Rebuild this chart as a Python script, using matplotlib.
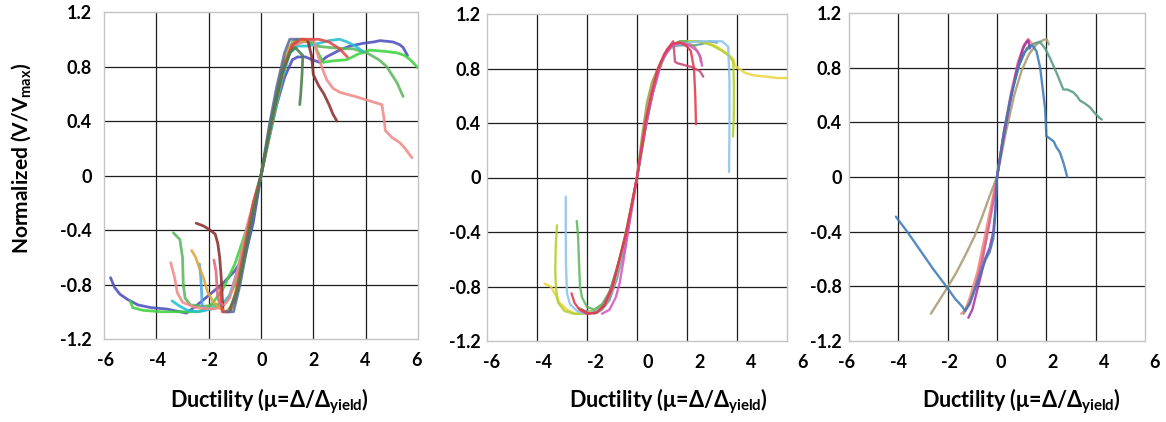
import matplotlib
matplotlib.use("Agg")
import matplotlib.pyplot as plt

plt.rcParams["font.family"] = ["Lato", "DejaVu Sans"]
plt.rcParams["font.weight"] = "bold"
plt.rcParams["mathtext.fontset"] = "custom"
plt.rcParams["mathtext.bf"] = "Lato:bold"
plt.rcParams["mathtext.rm"] = "Lato:bold"

X_TICKS = [-6, -4, -2, 0, 2, 4, 6]
Y_TICKS = [-1.2, -0.8, -0.4, 0, 0.4, 0.8, 1.2]
Y_TICK_LABELS = ["-1.2", "-0.8", "-0.4", "0", "0.4", "0.8", "1.2"]
GRID_X = [-4, -2, 0, 2, 4]
GRID_Y = [-0.8, -0.4, 0, 0.4, 0.8]

# ---- group 1 : backbone curves (ductility, V/Vmax)
p1_curves = {
    "blue": (
        [-5.75, -5.6, -5.4, -5.1, -4.7, -4.2, -3.6, -3.1, -2.85, -2.5, -2.0, -1.5, -1.0, -0.6, -0.3, 0,
         0.3, 0.6, 0.9, 1.2, 1.4, 1.7, 1.95, 2.25, 2.5, 3.0, 3.4, 3.9, 4.3, 4.55, 5.05, 5.3, 5.43, 5.6],
        [-0.75, -0.82, -0.87, -0.91, -0.95, -0.97, -0.98, -1.0, -1.01, -0.96, -0.88, -0.8, -0.7, -0.58, -0.35, 0,
         0.27, 0.52, 0.72, 0.85, 0.87, 0.87, 0.85, 0.83, 0.87, 0.92, 0.95, 0.97, 0.98, 0.99, 0.98, 0.96, 0.94, 0.88],
    ),
    "green": (
        [-5.0, -4.9, -4.5, -3.8, -3.0, -2.4, -2.0, -1.5, -1.0, -0.7, -0.4, -0.15, 0, 0.3, 0.6, 0.9, 1.2, 1.4,
         1.7, 2.0, 2.37, 2.7, 3.28, 3.7, 4.16, 4.8, 5.2, 5.5, 5.7, 6.0],
        [-0.92, -0.97, -0.99, -1.0, -1.0, -1.0, -0.97, -0.85, -0.65, -0.48, -0.3, -0.1, 0, 0.3, 0.6, 0.85, 0.98, 1.0,
         1.0, 0.97, 0.83, 0.84, 0.85, 0.89, 0.92, 0.91, 0.9, 0.88, 0.85, 0.79],
    ),
    "mid_green": (
        [-3.35, -3.1, -3.0, -2.97, -2.9, -2.7, -2.2, -1.7, -1.3, -1.0, -0.7, -0.4, 0, 0.4, 0.8, 1.1, 1.4,
         1.7, 2.1, 2.6, 3.2, 3.5, 4.05, 4.5, 4.8, 5.2, 5.43],
        [-0.42, -0.47, -0.6, -0.8, -0.9, -0.95, -0.96, -0.95, -0.92, -0.8, -0.55, -0.3, 0, 0.35, 0.7, 0.9, 0.97,
         0.99, 0.95, 0.94, 0.93, 0.93, 0.9, 0.85, 0.8, 0.68, 0.58],
    ),
    "cyan": (
        [-3.4, -3.1, -2.8, -2.4, -1.9, -1.5, -1.2, -0.9, -0.6, -0.3, 0, 0.4, 0.8, 1.1, 1.4, 1.8, 2.2, 2.6,
         3.0, 3.3, 3.6, 3.9],
        [-0.92, -0.96, -0.99, -1.0, -0.98, -0.95, -0.88, -0.7, -0.45, -0.22, 0, 0.38, 0.72, 0.9, 0.95, 0.95, 0.97,
         0.99, 1.0, 0.98, 0.95, 0.91],
    ),
    "sky": (
        [-2.35, -2.3, -2.27, -2.25, -2.15],
        [-0.65, -0.75, -0.86, -0.95, -0.99],
    ),
    "salmon": (
        [-3.45, -3.3, -3.2, -3.0, -2.5, -1.9, -1.5, -1.2, -0.9, -0.5, 0, 0.4, 0.8, 1.2, 1.6, 2.0, 2.18, 2.35,
         2.52, 2.75, 3.02, 3.6, 4.28, 4.62, 4.7, 4.75, 5.0, 5.31, 5.5, 5.77],
        [-0.64, -0.75, -0.86, -0.93, -0.97, -0.98, -0.97, -0.9, -0.7, -0.35, 0, 0.4, 0.75, 0.95, 0.98, 1.0, 0.88, 0.78,
         0.7, 0.64, 0.61, 0.58, 0.54, 0.52, 0.42, 0.33, 0.28, 0.24, 0.2, 0.13],
    ),
    "brown": (
        [-2.48, -2.2, -1.95, -1.75, -1.65, -1.58, -1.52, -1.48, -1.45, -1.2, -1.0, -0.7, -0.4, 0, 0.4, 0.8,
         1.2, 1.5, 1.8, 1.93, 2.0, 2.2, 2.4, 2.6, 2.75, 2.9],
        [-0.35, -0.37, -0.4, -0.43, -0.5, -0.6, -0.75, -0.9, -1.0, -1.0, -0.92, -0.65, -0.35, 0, 0.4, 0.75,
         0.96, 1.0, 0.98, 0.88, 0.74, 0.66, 0.6, 0.52, 0.45, 0.4],
    ),
    "orange": (
        [-2.65, -2.5, -2.35, -2.2, -2.05, -1.85, -1.6, -1.35, -1.1, -0.85, -0.55, -0.25, 0, 0.4, 0.8, 1.1,
         1.4, 1.7],
        [-0.55, -0.6, -0.68, -0.75, -0.85, -0.92, -0.97, -1.0, -0.96, -0.75, -0.45, -0.2, 0, 0.42, 0.78, 0.95,
         1.0, 0.98],
    ),
    "red": (
        [-1.55, -1.52, -1.48, -1.2, -0.95, -0.6, -0.3, 0, 0.5, 0.9, 1.2, 1.5, 1.9, 2.2, 2.6, 3.0, 3.3],
        [-0.82, -0.92, -1.0, -1.0, -0.85, -0.5, -0.2, 0, 0.5, 0.82, 0.96, 1.0, 1.0, 1.0, 0.98, 0.93, 0.87],
    ),
    "rose": (
        [-1.8, -1.72, -1.66, -1.6, -1.45],
        [-0.62, -0.7, -0.88, -0.93, -0.95],
    ),
    "slate": (
        [-1.35, -1.05, -0.8, -0.5, -0.2, 0, 0.3, 0.6, 0.9, 1.1, 1.4],
        [-1.0, -1.0, -0.8, -0.5, -0.2, 0, 0.35, 0.65, 0.9, 1.0, 1.0],
    ),
    "dark_green": (
        [-1.2, -0.9, -0.5, 0, 0.4, 0.8, 1.1, 1.3, 1.6, 1.57, 1.52, 1.48],
        [-0.98, -0.85, -0.45, 0, 0.4, 0.75, 0.9, 0.94, 0.88, 0.75, 0.6, 0.52],
    ),
}
p1_colors = {
    "blue": "#4d4dbf", "green": "#3ed23e", "mid_green": "#5db85d", "cyan": "#25c0d0",
    "sky": "#4aa8e8", "salmon": "#f08a8a", "brown": "#8b2e2e", "orange": "#e0a53a",
    "red": "#e04848", "rose": "#e06a7a", "slate": "#5b6e9a", "dark_green": "#4a7d4a",
}

# ---- group 2
p2_curves = {
    "teal": (
        [-2.0, -1.7, -1.4, -1.1, -0.8, -0.5, -0.25, 0, 0.25, 0.5, 0.8, 1.1, 1.4, 1.7, 2.0, 2.3, 2.6, 2.9, 3.2],
        [-0.98, -1.0, -0.97, -0.9, -0.74, -0.52, -0.27, 0, 0.28, 0.54, 0.76, 0.9, 0.96, 0.97, 0.97, 0.97, 0.98, 1.0, 0.99],
    ),
    "olive": (
        [-2.3, -2.0, -1.7, -1.4, -1.1, -0.8, -0.5, -0.25, 0, 0.2, 0.4, 0.6, 0.9, 1.2, 1.5, 1.8, 2.1, 2.3, 2.5, 2.55],
        [-0.96, -0.99, -0.98, -0.94, -0.85, -0.68, -0.46, -0.24, 0, 0.3, 0.55, 0.7, 0.83, 0.93, 0.98, 1.0, 0.98, 0.96, 0.9, 0.85],
    ),
    "yellow": (
        [-3.7, -3.45, -3.3, -3.1, -2.8, -2.5, -2.1, -1.7, -1.3, -1.0, -0.7, -0.45, -0.2, 0, 0.2, 0.4, 0.65, 0.9,
         1.2, 1.6, 2.0, 2.4, 2.8, 3.2, 3.6, 3.85, 3.92, 4.3, 4.65, 5.2, 5.6, 6.0],
        [-0.78, -0.8, -0.85, -0.92, -0.97, -1.0, -1.0, -0.99, -0.93, -0.82, -0.62, -0.42, -0.2, 0, 0.22, 0.43, 0.64, 0.81,
         0.93, 0.99, 1.0, 1.0, 0.99, 0.96, 0.91, 0.87, 0.82, 0.77, 0.75, 0.74, 0.73, 0.73],
    ),
    "lime": (
        [-3.2, -3.25, -3.27, -3.24, -3.15, -2.9, -2.5, -2.1, -1.7, -1.3, -1.0, -0.7, -0.45, -0.2, 0, 0.2, 0.4,
         0.65, 0.9, 1.2, 1.6, 2.0, 2.5, 3.0, 3.4, 3.7, 3.85, 3.88, 3.87, 3.84],
        [-0.35, -0.5, -0.68, -0.82, -0.92, -0.98, -1.0, -1.0, -0.97, -0.92, -0.8, -0.6, -0.4, -0.18, 0, 0.2, 0.42,
         0.63, 0.8, 0.93, 0.99, 1.0, 1.0, 0.97, 0.93, 0.89, 0.85, 0.65, 0.45, 0.3],
    ),
    "light_blue": (
        [-2.85, -2.85, -2.84, -2.8, -2.68, -2.4, -2.1, -1.8, -1.5, -1.2, -0.9, -0.6, -0.3, 0, 0.3, 0.6, 0.9, 1.2,
         1.6, 2.0, 2.5, 3.0, 3.4, 3.65, 3.7, 3.7, 3.69, 3.68],
        [-0.14, -0.4, -0.65, -0.85, -0.93, -0.98, -1.0, -0.99, -0.96, -0.9, -0.75, -0.55, -0.3, 0, 0.33, 0.6, 0.8, 0.93,
         0.98, 0.99, 1.0, 1.0, 1.0, 0.96, 0.7, 0.4, 0.2, 0.04],
    ),
    "green": (
        [-2.41, -2.36, -2.32, -2.28, -2.2, -2.0, -1.7, -1.4, -1.1, -0.8, -0.5, -0.25, 0, 0.25, 0.5, 0.8, 1.1, 1.4, 1.7, 2.0],
        [-0.32, -0.42, -0.62, -0.8, -0.88, -0.95, -0.97, -0.93, -0.84, -0.66, -0.46, -0.24, 0, 0.27, 0.52, 0.76, 0.9, 0.97, 1.0, 1.0],
    ),
    "crimson": (
        [-2.2, -1.9, -1.6, -1.3, -1.0, -0.7, -0.4, -0.2, 0, 0.2, 0.45, 0.7, 0.95, 1.2, 1.45, 1.52, 1.6, 1.99, 2.2, 2.52, 2.65],
        [-0.97, -1.0, -0.99, -0.93, -0.8, -0.6, -0.38, -0.19, 0, 0.22, 0.48, 0.68, 0.84, 0.94, 1.0, 0.85, 0.84, 0.82, 0.81, 0.78, 0.74],
    ),
    "magenta": (
        [-1.4, -1.1, -0.85, -0.7, -0.55, -0.4, -0.2, 0, 0.3, 0.6, 1.0, 1.4, 1.8, 2.1, 2.4, 2.55, 2.6],
        [-1.0, -0.97, -0.88, -0.78, -0.62, -0.45, -0.22, 0, 0.33, 0.6, 0.86, 0.97, 0.99, 0.97, 0.93, 0.88, 0.82],
    ),
    "red": (
        [-2.62, -2.5, -2.3, -2.0, -1.6, -1.3, -1.0, -0.75, -0.45, -0.2, 0, 0.18, 0.35, 0.55, 0.8, 1.1, 1.4, 1.7,
         1.95, 2.15, 2.28, 2.33, 2.36],
        [-0.85, -0.92, -0.97, -1.0, -0.99, -0.94, -0.82, -0.64, -0.42, -0.19, 0, 0.22, 0.42, 0.6, 0.78, 0.91, 0.98, 0.99,
         0.97, 0.93, 0.8, 0.6, 0.39],
    ),
}
p2_colors = {
    "teal": "#6a9e9a", "olive": "#9aa44a", "yellow": "#ead43c", "lime": "#b4cf2c",
    "light_blue": "#8cc4ec", "green": "#62b862", "crimson": "#c84a78", "magenta": "#d955c2",
    "red": "#e23a4e",
}

# ---- group 3
p3_curves = {
    "tan": (
        [-2.68, -2.4, -2.05, -1.65, -1.25, -0.9, -0.58, -0.3, 0, 0.35, 0.7, 1.0, 1.3, 1.6, 1.85, 2.01, 2.1],
        [-1.0, -0.92, -0.82, -0.7, -0.56, -0.43, -0.28, -0.14, 0, 0.32, 0.6, 0.78, 0.9, 0.97, 1.0, 1.01, 0.97],
    ),
    "teal_green": (
        [-1.35, -1.1, -0.8, -0.5, -0.2, 0, 0.3, 0.6, 0.9, 1.2, 1.4, 1.74, 1.95, 2.15, 2.42, 2.69, 2.85, 3.09,
         3.25, 3.36, 3.55, 3.77, 3.95, 4.17, 4.25],
        [-1.0, -0.92, -0.78, -0.52, -0.22, 0, 0.35, 0.62, 0.82, 0.94, 0.97, 0.99, 0.94, 0.87, 0.76, 0.64, 0.64, 0.62,
         0.59, 0.56, 0.54, 0.51, 0.47, 0.43, 0.42],
    ),
    "salmon": (
        [-1.45, -1.3, -1.1, -0.8, -0.5, -0.25, 0, 0.3, 0.6, 0.9, 1.1, 1.25, 1.4],
        [-1.0, -0.98, -0.88, -0.7, -0.44, -0.22, 0, 0.32, 0.62, 0.85, 0.96, 1.01, 0.98],
    ),
    "pink": (
        [-1.3, -1.1, -0.9, -0.6, -0.35, -0.15, 0, 0.25, 0.55, 0.85, 1.1, 1.3],
        [-0.98, -0.93, -0.82, -0.6, -0.38, -0.18, 0, 0.3, 0.6, 0.84, 0.97, 1.0],
    ),
    "purple": (
        [-1.16, -1.0, -0.82, -0.65, -0.49, -0.3, -0.15, -0.05, 0, 0.2, 0.5, 0.8, 1.05, 1.2, 1.27, 1.33],
        [-1.03, -0.97, -0.84, -0.72, -0.6, -0.52, -0.4, -0.2, 0, 0.22, 0.52, 0.78, 0.94, 0.99, 1.0, 0.94],
    ),
    "steel_blue": (
        [-4.1, -3.6, -3.1, -2.6, -2.1, -1.7, -1.4, -1.3, -1.1, -0.95, -0.7, -0.45, -0.3, -0.15, -0.08, 0, 0.3,
         0.6, 0.9, 1.1, 1.3, 1.45, 1.6, 1.75, 1.85, 1.95, 2.0, 2.15, 2.3, 2.4, 2.55, 2.7, 2.85],
        [-0.29, -0.41, -0.54, -0.67, -0.79, -0.89, -0.95, -0.98, -0.92, -0.84, -0.72, -0.6, -0.55, -0.45, -0.3, 0, 0.35,
         0.62, 0.82, 0.91, 0.95, 0.96, 0.92, 0.8, 0.65, 0.5, 0.3, 0.28, 0.26, 0.22, 0.18, 0.1, 0.0],
    ),
}
p3_colors = {
    "tan": "#a89a72", "teal_green": "#5a9a86", "salmon": "#f28a78", "pink": "#e8609a",
    "purple": "#a235a8", "steel_blue": "#3d7bb8",
}

W, H = 1166, 422

# pixel boxes of the three plot areas (left, top, right, bottom),
# the pixel span of the x tick labels under each one, y label pad and line width
panels = [
    (p1_curves, p1_colors, (104, 12, 418, 339), (106, 417), 9, 2.0),
    (p2_curves, p2_colors, (487, 14, 787, 341), (492, 803), 4.5, 1.7),
    (p3_curves, p3_colors, (849, 13, 1145, 341), (847, 1155), 5, 1.7),
]

fig = plt.figure(figsize=(W / 100, H / 100), dpi=100)

for curves, colors, box, span, pad, lw in panels:
    left, top, right, bottom = box
    ax = fig.add_axes([left / W, 1 - bottom / H, (right - left) / W, (bottom - top) / H])
    ax.set_xlim(-6, 6)
    ax.set_ylim(-1.2, 1.2)

    for v in GRID_X:
        ax.axvline(v, color="#1e1e1e", lw=0.9, zorder=1)
    for v in GRID_Y:
        ax.axhline(v, color="#1e1e1e", lw=0.9, zorder=1)

    for name, (xs, ys) in curves.items():
        ax.plot(xs, ys, color=colors[name], lw=lw, alpha=0.88,
                solid_capstyle="round", solid_joinstyle="round", zorder=2)

    for s in ax.spines.values():
        s.set_color("#c4c4c4")
        s.set_linewidth(1.0)

    ax.set_xticks([])
    ax.set_yticks(Y_TICKS, Y_TICK_LABELS)
    ax.tick_params(axis="y", length=0, pad=pad, labelsize=13)

    # x tick labels sit on their own spacing under the plot
    for i, v in enumerate(X_TICKS):
        px = span[0] + (span[1] - span[0]) * i / (len(X_TICKS) - 1)
        ax.text((px - left) / (right - left), -21 / (bottom - top), str(v),
                transform=ax.transAxes, ha="center", va="center", fontsize=13)

xlabel = r"Ductility (μ=Δ/Δ$_\mathbf{yield}$)"
for cx in (269, 668, 1021):
    fig.text(cx / W, 1 - 401 / H, xlabel, ha="center", va="center", fontsize=15.5)

fig.text(22 / W, 1 - 158 / H, r"Normalized (V/V$_\mathbf{max}$)",
         rotation=90, ha="center", va="center", fontsize=15)

fig.savefig("out.png", dpi=100)
